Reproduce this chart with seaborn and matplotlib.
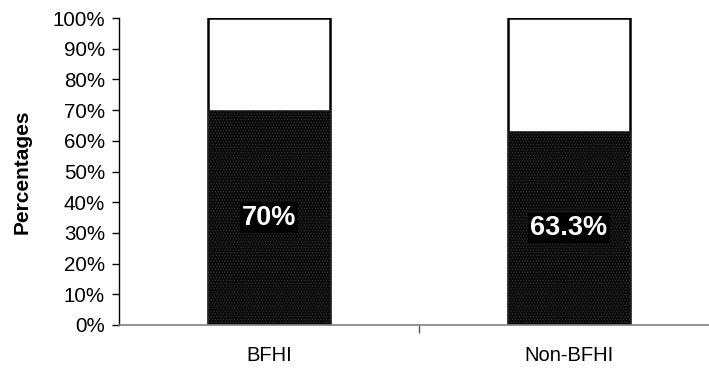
import matplotlib
matplotlib.use("Agg")
import matplotlib.pyplot as plt
import seaborn as sns
import pandas as pd
from matplotlib.ticker import FuncFormatter, FixedLocator

categories = ["BFHI", "Non-BFHI"]
yes_pct = [70.0, 63.3]
total_pct = [100.0, 100.0]
value_labels = ["70%", "63.3%"]

sns.set_theme(style="white")
plt.rcParams["font.family"] = ["Liberation Sans", "DejaVu Sans"]
plt.rcParams["hatch.linewidth"] = 0.6

df = pd.DataFrame({"group": categories, "yes": yes_pct, "total": total_pct})

fig = plt.figure(figsize=(7.09, 3.69), dpi=100)
ax = fig.add_axes([119 / 709, 44 / 369, 600 / 709, 307 / 369])

# full-height white segment, then the dark segment on top of it
sns.barplot(data=df, x="group", y="total", ax=ax, color="white",
            edgecolor="black", linewidth=1.8, width=0.405, saturation=1)
sns.barplot(data=df, x="group", y="yes", ax=ax, color="#0b0b0b",
            edgecolor="#0b0b0b", linewidth=0.5, width=0.405, saturation=1)
for patch in ax.patches[len(categories):]:
    patch.set_hatch("......")
    patch.set_edgecolor("#2a2a2a")

for i, (v, lab) in enumerate(zip(yes_pct, value_labels)):
    ax.text(i, v / 2, lab, ha="center", va="center", color="white",
            fontsize=19.5, fontweight="bold",
            bbox=dict(facecolor="black", edgecolor="none", pad=1.5))

ax.set_xlim(-0.5, 1.5)
ax.set_ylim(0, 100)
ax.yaxis.set_major_locator(FixedLocator(range(0, 101, 10)))
ax.yaxis.set_major_formatter(FuncFormatter(lambda v, p: f"{int(v)}%"))
ax.set_xlabel("")
ax.set_ylabel("Percentages", fontsize=15, fontweight="bold", labelpad=15,
              color="black")

ax.tick_params(axis="y", which="major", direction="out", length=5,
               width=1, color="black", labelsize=14.8, left=True, pad=5,
               labelcolor="black")
ax.tick_params(axis="x", which="major", length=0, labelsize=14.5, pad=15,
               labelcolor="black")
ax.set_xticks([0, 1])
ax.set_xticklabels(categories)
ax.xaxis.set_minor_locator(FixedLocator([0.5]))
ax.tick_params(axis="x", which="minor", direction="out", length=6,
               width=1, color="#555555", bottom=True)

for s in ["top", "right"]:
    ax.spines[s].set_visible(False)
ax.spines["left"].set_color("black")
ax.spines["left"].set_linewidth(1)
ax.spines["bottom"].set_color("#808080")
ax.spines["bottom"].set_linewidth(1.2)

fig.savefig("out.png", dpi=100)
